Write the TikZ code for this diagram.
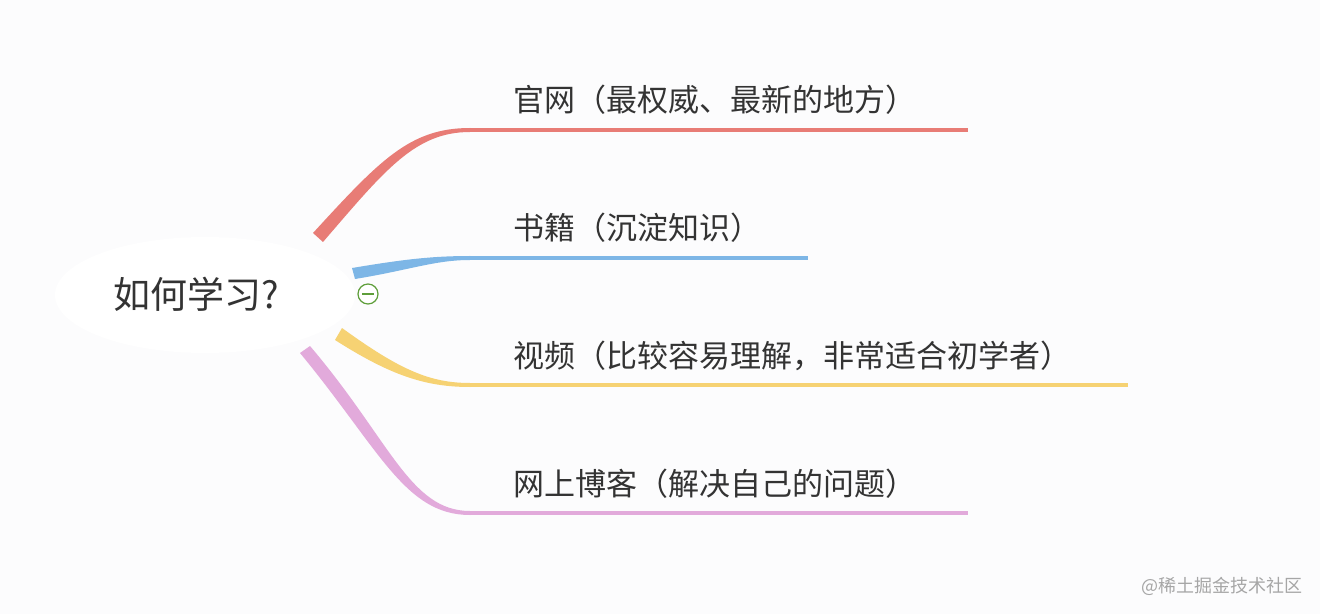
\documentclass[tikz,border=0pt]{standalone}
\usepackage{fontspec}
\newfontfamily\cjk{Noto Sans CJK SC}
\usetikzlibrary{positioning}
\definecolor{bgcol}{HTML}{FCFCFD}
\definecolor{redbr}{HTML}{E87C76}
\definecolor{bluebr}{HTML}{7DB6E6}
\definecolor{yellowbr}{HTML}{F6D273}
\definecolor{pinkbr}{HTML}{E2AADB}
\definecolor{txtcol}{HTML}{333333}
\definecolor{mincol}{HTML}{5E9E3A}

\begin{document}
\begin{tikzpicture}[x=0.5pt,y=-0.5pt,
    leaf/.style={anchor=base west,inner sep=0pt,text=txtcol,font=\cjk\fontsize{15.5}{15.5}\selectfont},
    stem/.style={line width=1.6pt}]
    \fill[bgcol] (0,0) rectangle (1320,614);
    \useasboundingbox (0,0) rectangle (1320,614);

    % root
    \fill[white] (205,295) ellipse (150 and 58);
    \node[anchor=base west,inner sep=0pt,text=txtcol,font=\cjk\fontsize{18.5}{18.5}\selectfont] (root) at (113,308) {如何学习?};

    % branches
    \coordinate (r0) at (470,130); \coordinate (r1) at (968,130);
    \coordinate (b0) at (470,258); \coordinate (b1) at (808,258);
    \coordinate (y0) at (470,385); \coordinate (y1) at (1128,385);
    \coordinate (p0) at (470,513); \coordinate (p1) at (968,513);

    \fill[redbr] (313,233) .. controls (380,160) and (410,128) .. (470,128)
      -- (470,132) .. controls (415,132) and (385,170) .. (323,242) -- cycle;
    \draw[redbr,stem] (r0) -- (r1);
    \fill[bluebr] (352,268) .. controls (400,260) and (430,256) .. (470,256)
      -- (470,260) .. controls (435,260) and (410,270) .. (355,279) -- cycle;
    \draw[bluebr,stem] (b0) -- (b1);
    \fill[yellowbr] (342,328) .. controls (400,370) and (430,383) .. (470,383)
      -- (470,387) .. controls (425,387) and (390,375) .. (335,340) -- cycle;
    \draw[yellowbr,stem] (y0) -- (y1);
    \fill[pinkbr] (310,346) .. controls (390,440) and (410,511) .. (470,511)
      -- (470,515) .. controls (405,515) and (380,450) .. (300,353) -- cycle;
    \draw[pinkbr,stem] (p0) -- (p1);

    % collapse mark
    \node[circle,draw=mincol,fill=white,line width=0.6pt,minimum size=10pt,inner sep=0pt] (fold) at (368,294) {};
    \draw[mincol,line width=0.6pt] ([xshift=-3pt]fold.center) -- ([xshift=3pt]fold.center);

    % labels
    \node[leaf] (l1) at (513,112) {官网（最权威、最新的地方）};
    \node[leaf] (l2) at (513,240) {书籍（沉淀知识）};
    \node[leaf] (l3) at (513,367) {视频（比较容易理解，非常适合初学者）};
    \node[leaf] (l4) at (513,495) {网上博客（解决自己的问题）};

    \node[anchor=base east,inner sep=0pt,text=gray!70,font=\cjk\fontsize{9}{9}\selectfont] (mark) at (1303,592) {@稀土掘金技术社区};
\end{tikzpicture}
\end{document}
